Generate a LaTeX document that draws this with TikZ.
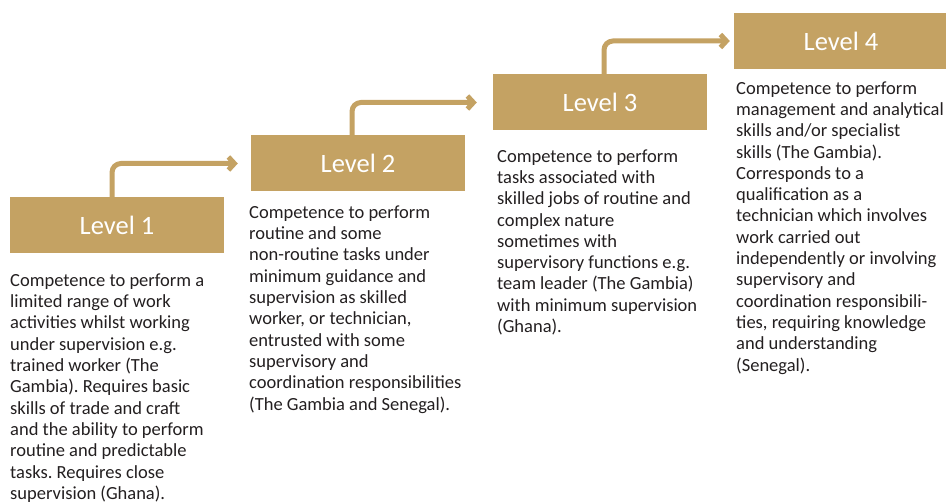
\documentclass[tikz,border=0pt]{standalone}
\usepackage{fontspec}
\setmainfont{Carlito}
\usepackage{tikz}
\usetikzlibrary{arrows.meta}
\usepackage{xcolor}
\definecolor{gold}{HTML}{C4A263}
\definecolor{ink}{HTML}{231F20}
\frenchspacing

\begin{document}
\begin{tikzpicture}[x=1pt, y=-1pt,
    lvlbox/.style={fill=gold, text=white, minimum width=214pt, minimum height=56pt,
        inner sep=0pt, font=\fontsize{26.5}{30}\selectfont},
    desc/.style={anchor=north west, align=left, inner sep=0pt, text=ink,
        font=\fontsize{18.5}{21.3}\selectfont},
    stepline/.style={draw=gold, line width=5pt, rounded corners=9pt,
        -{Straight Barb[length=6pt, width=13pt]}}]
    \useasboundingbox (0,0) rectangle (946,502);

    % Levels
    \node[lvlbox] (lvl1) at (117,225) {Level 1};
    \node[lvlbox] (lvl2) at (358,163.5) {Level 2};
    \node[lvlbox] (lvl3) at (600,102.5) {Level 3};
    \node[lvlbox] (lvl4) at (841,41) {Level 4};

    % Arrows
    \draw[stepline] ([xshift=-5pt]lvl1.north) |- ([xshift=-13pt]lvl2.west);
    \draw[stepline] ([xshift=-6pt]lvl2.north) |- ([xshift=-16pt]lvl3.west);
    \draw[stepline] ([xshift=4pt]lvl3.north) |- ([xshift=-4pt]lvl4.west);

    % Descriptions
    \node[desc] (desc1) at (10,273.5) {Competence to perform a\\
        limited range of work\\
        activities whilst working\\
        under supervision e.g.\\
        trained worker (The\\
        Gambia). Requires basic\\
        skills of trade and craft\\
        and the ability to perform\\
        routine and predictable\\
        tasks. Requires close\\
        supervision (Ghana).};
    \node[desc] (desc2) at (249,205.5) {Competence to perform\\
        routine and some\\
        non-routine tasks under\\
        minimum guidance and\\
        supervision as skilled\\
        worker, or technician,\\
        entrusted with some\\
        supervisory and\\
        coordination responsibilities\\
        (The Gambia and Senegal).};
    \node[desc] (desc3) at (497,149.3) {Competence to perform\\
        tasks associated with\\
        skilled jobs of routine and\\
        complex nature\\
        sometimes with\\
        supervisory functions e.g.\\
        team leader (The Gambia)\\
        with minimum supervision\\
        (Ghana).};
    \node[desc] (desc4) at (736,81.3) {Competence to perform\\
        management and analytical\\
        skills and/or specialist\\
        skills (The Gambia).\\
        Corresponds to a\\
        qualification as a\\
        technician which involves\\
        work carried out\\
        independently or involving\\
        supervisory and\\
        coordination responsibili-\\
        ties, requiring knowledge\\
        and understanding\\
        (Senegal).};
\end{tikzpicture}
\end{document}
